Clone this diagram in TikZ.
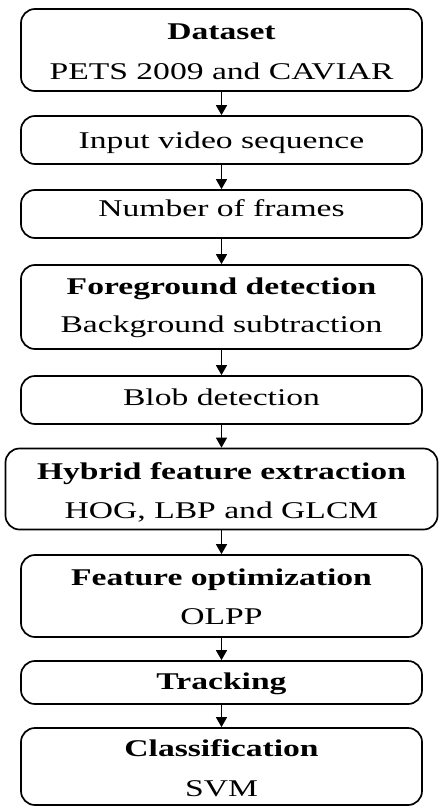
\documentclass[tikz,border=0pt]{standalone}
\usepackage{fontspec}
\setmainfont{Liberation Serif}
\usetikzlibrary{arrows.meta}
\tikzset{
  box/.style={draw=black, line width=1.7bp, rounded corners=14bp, fill=white, inner sep=0pt},
  lbl/.style={anchor=base, inner sep=0pt, font=\fontsize{24bp}{28bp}\selectfont},
  blbl/.style={lbl, font=\fontsize{24bp}{28bp}\selectfont\bfseries},
  conn/.style={line width=1.4bp, -{Triangle[length=10bp,width=11bp]}},
}
\newcommand{\wide}[1]{\scalebox{1.4}[1]{#1}}
\begin{document}
\begin{tikzpicture}[x=1bp,y=-1bp]
\useasboundingbox (0,0) rectangle (439,807);
% boxes
\node[box, minimum width=401bp, minimum height=82bp] (b1) at (221.5,50) {};
\node[box, minimum width=401bp, minimum height=48bp] (b2) at (221.5,140) {};
\node[box, minimum width=401bp, minimum height=48bp] (b3) at (221.5,214) {};
\node[box, minimum width=401bp, minimum height=84bp] (b4) at (221.5,307) {};
\node[box, minimum width=401bp, minimum height=48bp] (b5) at (221.5,400) {};
\node[box, minimum width=432bp, minimum height=81bp] (b6) at (221.5,489) {};
\node[box, minimum width=401bp, minimum height=82bp] (b7) at (221.5,596) {};
\node[box, minimum width=401bp, minimum height=43bp] (b8) at (221.5,682.5) {};
\node[box, minimum width=401bp, minimum height=77bp] (b9) at (221.5,766.5) {};
% texts
\node[blbl] (t1a) at (221.5,39.5) {\wide{Dataset}};
\node[lbl]  (t1b) at (221.5,80) {\wide{PETS 2009 and CAVIAR}};
\node[lbl]  (t2)  at (221.5,148.3) {\wide{Input video sequence}};
\node[lbl]  (t3)  at (221.5,216.7) {\wide{Number of frames}};
\node[blbl] (t4a) at (221.5,294) {\wide{Foreground detection}};
\node[lbl]  (t4b) at (221.5,332.7) {\wide{Background subtraction}};
\node[lbl]  (t5)  at (221.5,405) {\wide{Blob detection}};
\node[blbl] (t6a) at (221.5,479) {\wide{Hybrid feature extraction}};
\node[lbl]  (t6b) at (221.5,518.3) {\wide{HOG, LBP and GLCM}};
\node[blbl] (t7a) at (221.5,585.3) {\wide{Feature optimization}};
\node[lbl]  (t7b) at (221.5,624.3) {\wide{OLPP}};
\node[blbl] (t8)  at (221.5,689.3) {\wide{Tracking}};
\node[blbl] (t9a) at (221.5,756.3) {\wide{Classification}};
\node[lbl]  (t9b) at (221.5,796.3) {\wide{SVM}};
% connectors
\draw[conn] (b1.south) -- (b2.north);
\draw[conn] (b2.south) -- (b3.north);
\draw[conn] (b3.south) -- (b4.north);
\draw[conn] (b4.south) -- (b5.north);
\draw[conn] (b5.south) -- (b6.north);
\draw[conn] (b6.south) -- (b7.north);
\draw[conn] (b7.south) -- (b8.north);
\draw[conn] (b8.south) -- (b9.north);
\end{tikzpicture}
\end{document}
